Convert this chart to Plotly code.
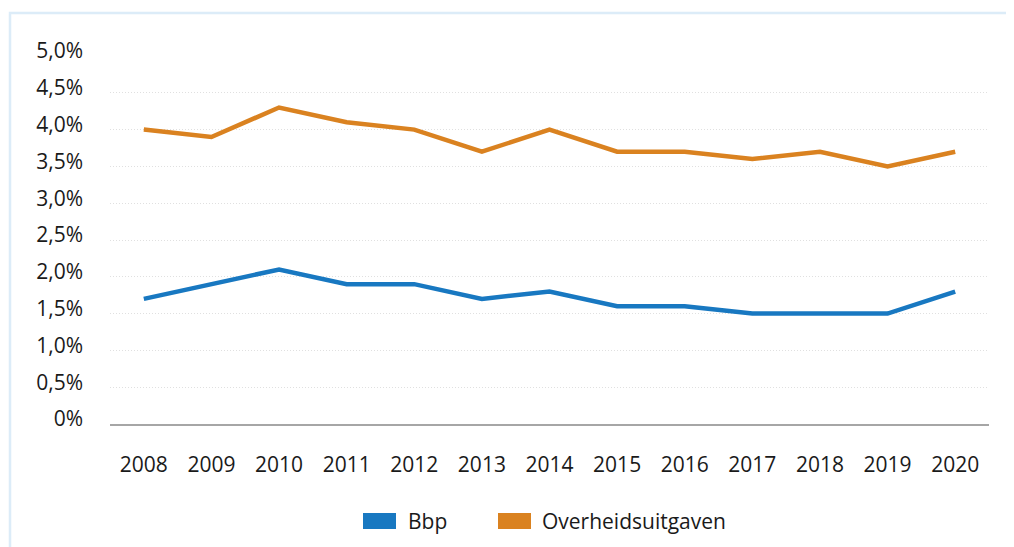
import plotly.graph_objects as go

years = ["2008", "2009", "2010", "2011", "2012", "2013", "2014",
         "2015", "2016", "2017", "2018", "2019", "2020"]
bbp = [1.7, 1.9, 2.1, 1.9, 1.9, 1.7, 1.8, 1.6, 1.6, 1.5, 1.5, 1.5, 1.8]
overheid = [4.0, 3.9, 4.3, 4.1, 4.0, 3.7, 4.0, 3.7, 3.7, 3.6, 3.7, 3.5, 3.7]
series_names = ["Bbp", "Overheidsuitgaven"]
series_colors = ["#1878c1", "#da8220"]
ytick_vals = [0, 0.5, 1.0, 1.5, 2.0, 2.5, 3.0, 3.5, 4.0, 4.5, 5.0]
ytick_text = ["0%", "0,5%", "1,0%", "1,5%", "2,0%", "2,5%", "3,0%", "3,5%", "4,0%", "4,5%", "5,0%"]

FONT = "Open Sans"
FS = 21
OFF = 8  # browser body margin
W, H = 1014 - OFF, 547 - OFF
L, T = 110 - OFF, 56 - OFF
pw, ph = 879, 368
R, B = W - L - pw, H - T - ph

fig = go.Figure()
for name, vals, col in zip(series_names, [bbp, overheid], series_colors):
    fig.add_trace(go.Scatter(x=years, y=vals, mode="lines", name=name,
                             line=dict(color=col, width=4.5), showlegend=False,
                             hoverinfo="skip"))

# page pixel -> paper coordinates
def px_x(px):
    return (px - OFF - L) / pw

def px_y(py):
    return (T + ph - (py - OFF)) / ph

# light blue frame
fig.add_shape(type="rect", xref="paper", yref="paper",
              x0=px_x(10), x1=px_x(1100), y0=px_y(700), y1=px_y(13),
              line=dict(color="#dcecf8", width=2.5), fillcolor="rgba(0,0,0,0)",
              layer="below")

# legend (swatches + labels)
legend_pos = [(363, 406), (498, 540)]
for (sx, tx), name, col in zip(legend_pos, series_names, series_colors):
    fig.add_shape(type="rect", xref="paper", yref="paper",
                  x0=px_x(sx), x1=px_x(sx + 33), y0=px_y(529), y1=px_y(513),
                  line=dict(width=0), fillcolor=col)
    fig.add_annotation(xref="paper", yref="paper", x=px_x(tx), y=px_y(521),
                       xanchor="left", yanchor="middle", showarrow=False,
                       text=name, font=dict(family=FONT, size=FS, color="#1a1a1a"))

fig.update_layout(
    width=W, height=H,
    margin=dict(l=L, r=R, t=T, b=B, autoexpand=False),
    paper_bgcolor="white", plot_bgcolor="white",
    font=dict(family=FONT, size=FS, color="#1a1a1a"),
    showlegend=False,
    xaxis=dict(type="category", showgrid=False, zeroline=False,
               showline=True, linecolor="#a6a6a6", linewidth=2,
               ticks="", ticklabelstandoff=21, range=[-0.5, 12.5],
               automargin=False),
    yaxis=dict(range=[0, 5.0], tickvals=ytick_vals, ticktext=ytick_text,
               showgrid=True, gridcolor="#e0e0e0", gridwidth=1, griddash="1px,2px",
               zeroline=False, showline=False, ticks="",
               ticklabelstandoff=26, ticklabelshift=-5, automargin=False),
)

fig.write_html("out.html")
